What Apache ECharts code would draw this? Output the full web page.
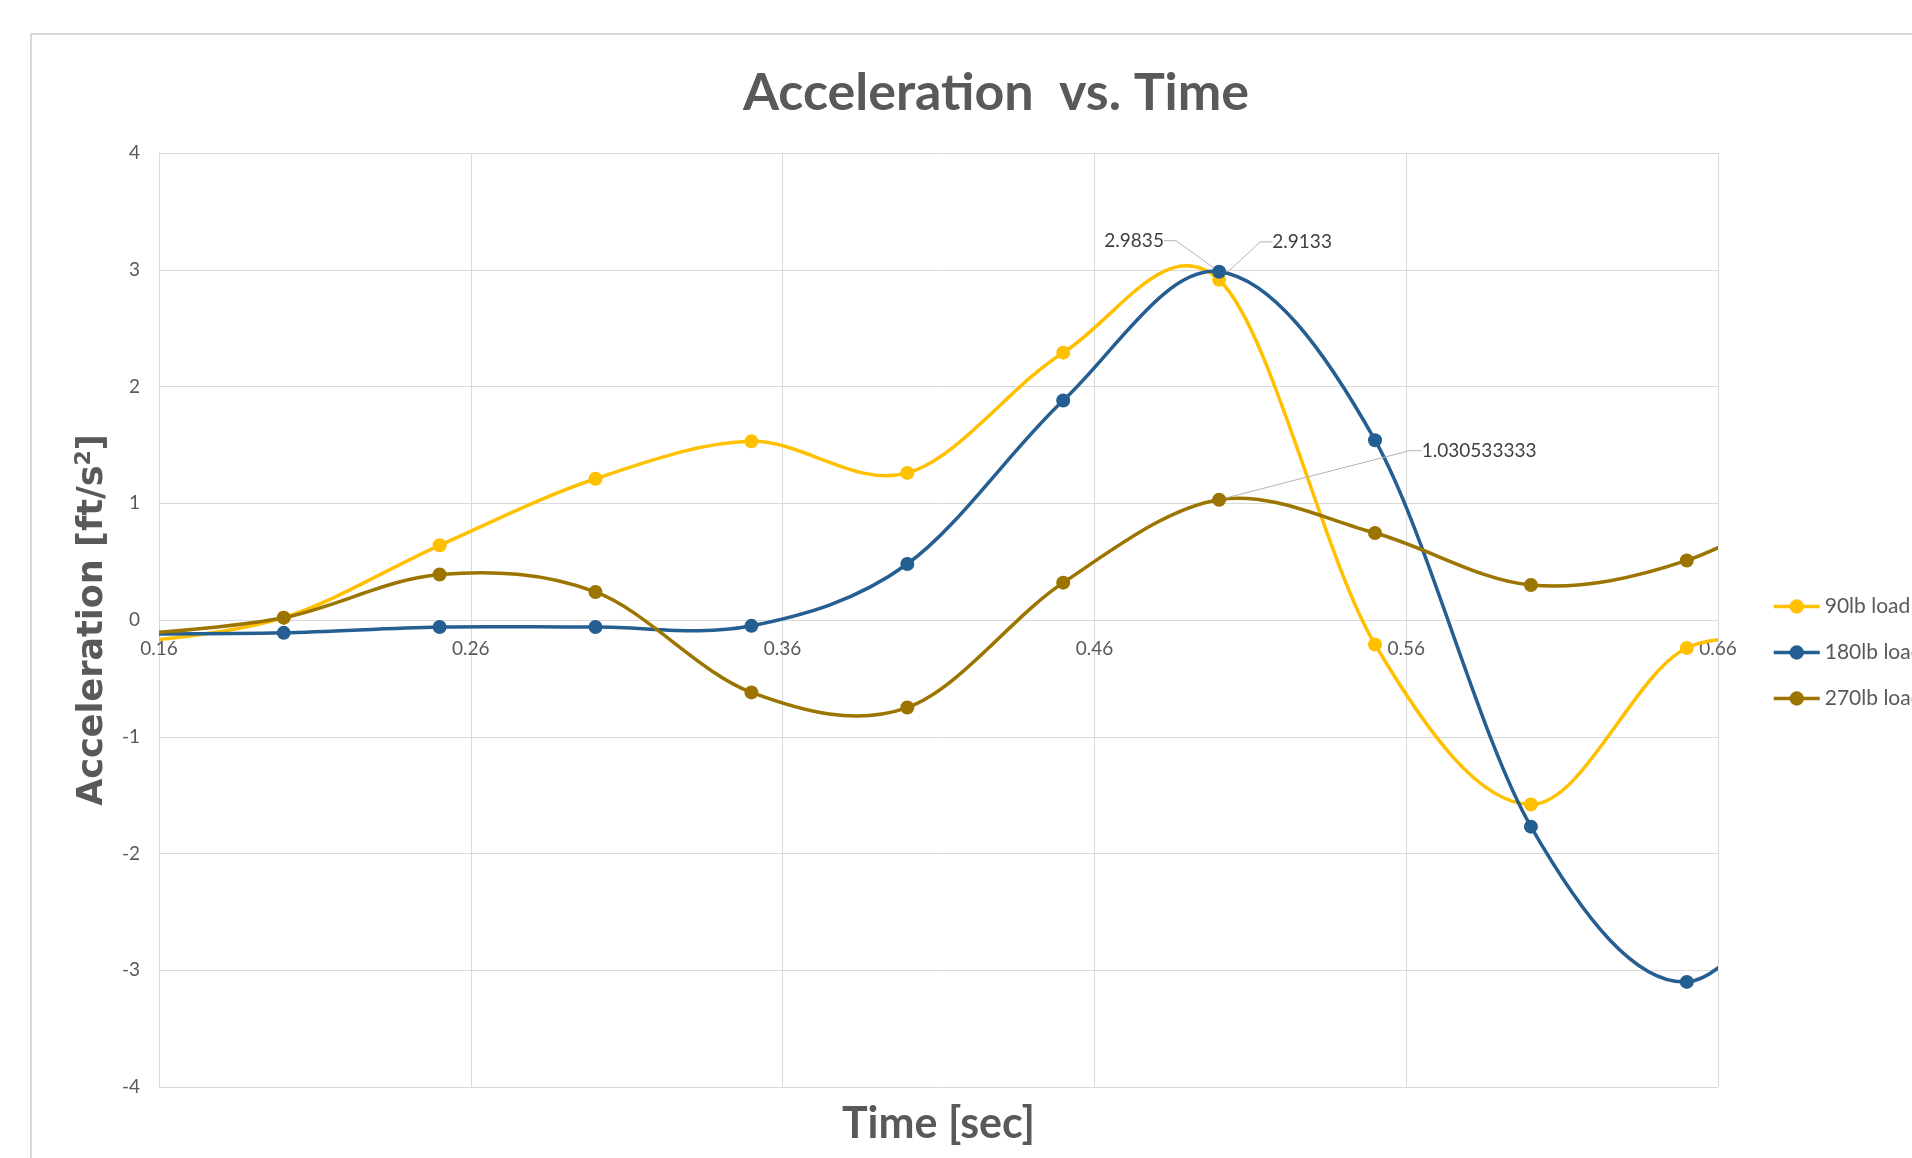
<!DOCTYPE html>
<html>
<head>
<meta charset="utf-8">
<script src="https://cdn.jsdelivr.net/npm/echarts@6/dist/echarts.min.js"></script>
<style>
  html, body { margin: 0; padding: 0; background: #ffffff; }
  #chart { width: 1912px; height: 1158px; }
</style>
</head>
<body>
<div id="chart"></div>
<script>
// ---- data ----
const time    = [0.15, 0.20, 0.25, 0.30, 0.35, 0.40, 0.45, 0.50, 0.55, 0.60, 0.65, 0.70];
const load90  = [-0.20, 0.02, 0.64, 1.21, 1.53, 1.26, 2.29, 2.9133, -0.21, -1.58, -0.24, -0.33];
const load180 = [-0.12, -0.11, -0.06, -0.06, -0.05, 0.48, 1.88, 2.9835, 1.54, -1.77, -3.10, -1.65];
const load270 = [-0.13, 0.02, 0.39, 0.24, -0.62, -0.75, 0.32, 1.030533333, 0.745, 0.30, 0.51, 1.20];
const seriesNames = ['90lb load', '180lb load', '270lb load'];
const xTickValues = [0.16, 0.26, 0.36, 0.46, 0.56, 0.66];
const labelledTime = 0.50;   // the points whose values are written on the chart

// ---- styling ----
const colors = ['#FFC000', '#255E91', '#9C7400'];
const labelOffsets = [[83, -38], [-85, -31], [260, -49]];   // label centre relative to its point
const textGray = '#595959';
const gridGray = '#d9d9d9';
const gridTop = 153, gridBottomY = 1087, zeroY = 620;

const allValues = [load90, load180, load270];

function buildData(values) {
  return time.map(function (t, i) {
    const item = { value: [t, values[i]] };
    if (t === labelledTime) {
      item.label = {
        show: true,
        formatter: function (p) { return String(p.value[1]); }
      };
      item.labelLine = { show: true };
    }
    return item;
  });
}

// Smooth curve (Catmull-Rom style Bezier, like a spreadsheet "smoothed line"),
// each segment drawn between library-converted coordinates.
function curveSeries(vals, sIdx) {
  return {
    type: 'custom',
    name: 'curve-' + sIdx,
    data: time.map(function (t, i) { return [t, vals[i]]; }),
    encode: { x: 0, y: 1 },
    clip: true,
    silent: true,
    z: 2 + sIdx * 2,
    renderItem: function (params, api) {
      const i = params.dataIndex;
      const n = time.length;
      if (i >= n - 1) return null;
      const pt = function (k) {
        k = Math.max(0, Math.min(n - 1, k));
        return api.coord([time[k], vals[k]]);
      };
      const p0 = pt(i - 1), p1 = pt(i), p2 = pt(i + 1), p3 = pt(i + 2);
      return {
        type: 'bezierCurve',
        shape: {
          x1: p1[0], y1: p1[1],
          x2: p2[0], y2: p2[1],
          cpx1: p1[0] + (p2[0] - p0[0]) / 6, cpy1: p1[1] + (p2[1] - p0[1]) / 6,
          cpx2: p2[0] - (p3[0] - p1[0]) / 6, cpy2: p2[1] - (p3[1] - p1[1]) / 6
        },
        style: { stroke: colors[sIdx], lineWidth: 3.5, fill: null, lineCap: 'round' }
      };
    }
  };
}

function pointSeries(vals, sIdx) {
  return {
    name: seriesNames[sIdx],
    type: 'line',
    data: buildData(vals),
    symbol: 'circle',
    symbolSize: 14,
    clip: true,
    color: colors[sIdx],
    lineStyle: { width: 3.5, color: colors[sIdx], opacity: 0 },
    itemStyle: { color: colors[sIdx] },
    label: {
      show: false,
      fontFamily: 'Lato',
      fontSize: 19,
      color: '#404040'
    },
    labelLine: {
      show: false,
      length2: 12,
      lineStyle: { color: '#b4b4b4', width: 1 }
    },
    labelLayout: function (params) {
      const cx = params.rect.x + params.rect.width / 2;
      const cy = params.rect.y + params.rect.height / 2;
      const off = labelOffsets[sIdx];
      return { x: cx + off[0], y: cy + off[1], align: 'center', verticalAlign: 'middle' };
    },
    emphasis: { disabled: true },
    z: 3 + sIdx * 2
  };
}

const series = [];
allValues.forEach(function (vals, sIdx) {
  series.push(curveSeries(vals, sIdx));
});
allValues.forEach(function (vals, sIdx) {
  series.push(pointSeries(vals, sIdx));
});

const chart = echarts.init(document.getElementById('chart'), null, { renderer: 'canvas' });

chart.setOption({
  animation: false,
  backgroundColor: '#ffffff',
  title: {
    text: 'Acceleration  vs. Time',
    left: 991,
    top: 62,
    textAlign: 'center',
    textStyle: {
      fontFamily: 'Lato',
      fontWeight: 'bold',
      fontSize: 52,
      color: textGray
    }
  },
  legend: {
    orient: 'vertical',
    left: 1767,
    top: 591,
    padding: 5,
    itemWidth: 46,
    itemHeight: 18,
    itemGap: 25,
    lineStyle: { width: 3.5, opacity: 1 },
    textStyle: { fontFamily: 'Lato', fontSize: 21, color: textGray },
    data: seriesNames
  },
  grid: {
    left: 159,
    top: gridTop,
    right: 1912 - 1718,
    bottom: 1158 - gridBottomY,
    containLabel: false,
    outerBoundsMode: 'none'
  },
  xAxis: {
    type: 'value',
    min: 0.16,
    max: 0.66,
    offset: zeroY - gridBottomY,
    name: 'Time [sec]',
    nameLocation: 'middle',
    nameGap: 483,
    nameTextStyle: { fontFamily: 'Lato', fontWeight: 'bold', fontSize: 43, color: textGray },
    axisLine: { show: true, onZero: false, lineStyle: { color: gridGray, width: 1 } },
    axisTick: { show: false, customValues: xTickValues },
    axisLabel: {
      customValues: xTickValues,
      fontFamily: 'Lato',
      fontSize: 19,
      color: textGray,
      margin: 19,
      showMinLabel: true,
      showMaxLabel: true
    },
    splitLine: { show: true, lineStyle: { color: gridGray, width: 1 } }
  },
  yAxis: {
    type: 'value',
    min: -4,
    max: 4,
    interval: 1,
    name: '{a|Acceleration [ft/s}{b|2}{a|]}',
    nameLocation: 'middle',
    nameGap: 46,
    nameRotate: 90,
    nameTextStyle: {
      rich: {
        a: { fontFamily: 'DejaVu Sans', fontWeight: 'bold', fontSize: 35, color: textGray, lineHeight: 40 },
        b: { fontFamily: 'DejaVu Sans', fontWeight: 'bold', fontSize: 22, color: textGray, verticalAlign: 'top', lineHeight: 40 }
      }
    },
    axisLine: { show: true, onZero: false, lineStyle: { color: gridGray, width: 1 } },
    axisTick: { show: false },
    axisLabel: { fontFamily: 'Lato', fontSize: 19, color: textGray, margin: 19 },
    splitLine: { show: true, lineStyle: { color: gridGray, width: 1 } }
  },
  graphic: [
    {
      type: 'rect',
      shape: { x: 31, y: 34, width: 2000, height: 2000 },
      style: { fill: null, stroke: gridGray, lineWidth: 2 },
      silent: true,
      z: -10
    }
  ],
  series: series
});
</script>
</body>
</html>
